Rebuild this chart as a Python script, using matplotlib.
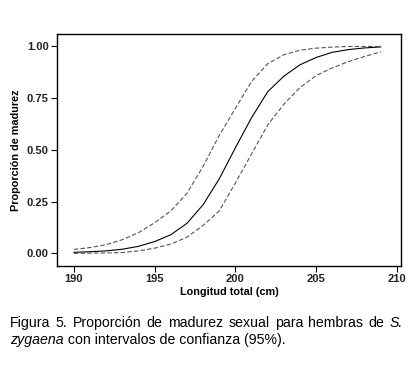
import matplotlib
matplotlib.use("Agg")
import matplotlib.pyplot as plt

# curves (talla total in cm vs proporcion madura)
talla = [190, 191, 192, 193, 194, 195, 196, 197, 198, 199,
         200, 201, 202, 203, 204, 205, 206, 207, 208, 209]
p_mid = [0.005, 0.008, 0.012, 0.020, 0.034, 0.057, 0.090, 0.145, 0.235, 0.36,
         0.51, 0.655, 0.78, 0.855, 0.91, 0.945, 0.97, 0.983, 0.991, 0.996]
p_up = [0.019, 0.028, 0.042, 0.066, 0.10, 0.148, 0.205, 0.29, 0.42, 0.57,
        0.70, 0.83, 0.915, 0.958, 0.980, 0.990, 0.995, 0.998, 0.998, 0.998]
p_lo = [0.000, 0.001, 0.002, 0.004, 0.012, 0.025, 0.045, 0.078, 0.135, 0.205,
        0.34, 0.48, 0.62, 0.72, 0.80, 0.858, 0.895, 0.925, 0.95, 0.972]

xticks = [190, 195, 200, 205, 210]
yticks = [0.0, 0.25, 0.50, 0.75, 1.00]

plt.rcParams['font.family'] = ['Liberation Sans', 'DejaVu Sans']

fig = plt.figure(figsize=(4.2, 3.66), dpi=100)
ax = fig.add_axes([0.1357, 0.2732, 0.8191, 0.6338])

ax.plot(talla, p_mid, color='black', lw=0.8)
ax.plot(talla, p_up, color='#555555', lw=0.8, ls=(0, (4, 2)))
ax.plot(talla, p_lo, color='#555555', lw=0.8, ls=(0, (4, 2)))

ax.set_xlim(188.95, 210.25)
ax.set_ylim(-0.061, 1.058)
ax.set_xticks(xticks)
ax.set_xticklabels([str(t) for t in xticks], fontsize=8, fontweight='bold', color='#222222')
ax.set_yticks(yticks)
ax.set_yticklabels(['%.2f' % t for t in yticks], fontsize=8, fontweight='bold', color='#222222')
ax.tick_params(length=4, width=0.8, pad=2)
for s in ax.spines.values():
    s.set_linewidth(1.0)

ax.set_xlabel('Longitud total (cm)', fontsize=7.8, fontweight='bold', labelpad=2)
ax.set_ylabel('Proporción de madurez', fontsize=7.8, fontweight='bold', labelpad=4)

# caption, first line justified, with italic species name
cap_fs = 10.2
r = fig.canvas.get_renderer()
W = fig.bbox.width
left_px, right_px = 10, 403
y1 = 1 - 327 / 366
y2 = 1 - 344 / 366

words = [('Figura', 'normal'), ('5.', 'normal'), ('Proporción', 'normal'), ('de', 'normal'),
         ('madurez', 'normal'), ('sexual', 'normal'), ('para', 'normal'), ('hembras', 'normal'),
         ('de', 'normal'), ('S.', 'italic')]
objs = []
total = 0
for w, st in words:
    t = fig.text(0, y1, w, fontsize=cap_fs, style=st)
    total += t.get_window_extent(r).width
    objs.append(t)
gap = (right_px - left_px - total) / (len(words) - 1)
xp = left_px
for t in objs:
    t.set_x(xp / W)
    xp += t.get_window_extent(r).width + gap

t2 = fig.text(left_px / W, y2, 'zygaena', fontsize=cap_fs, style='italic')
bb = t2.get_window_extent(r)
fig.text(bb.x1 / W, y2, ' con intervalos de confianza (95%).', fontsize=cap_fs)

fig.savefig('out.png', dpi=100)
